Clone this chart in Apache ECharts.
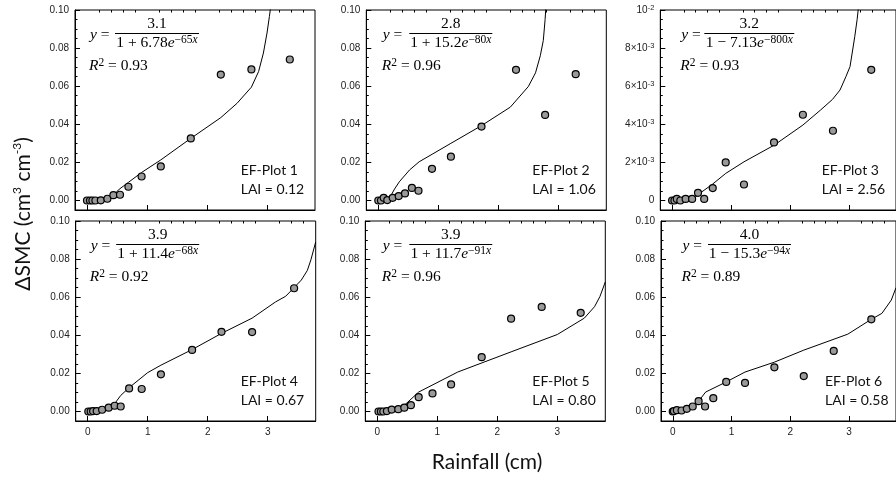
<!DOCTYPE html>
<html>
<head>
<meta charset="utf-8">
<script src="https://cdn.jsdelivr.net/npm/echarts@6/dist/echarts.min.js"></script>
<style>html,body{margin:0;padding:0;background:#fff}#c{width:896px;height:479px}</style>
</head>
<body>
<div id="c"></div>
<script>
// ---------------- data ----------------
const rain1 = [0, 0.05, 0.09, 0.14, 0.23, 0.34, 0.44, 0.55, 0.69, 0.91, 1.23, 1.73, 2.23, 2.74, 3.38];
const dsmc1 = [0, 0, 0, 0, 0.0001, 0.0009, 0.0028, 0.003, 0.0072, 0.0126, 0.0179, 0.0326, 0.0661, 0.0688, 0.074];
const fitX1 = [0, 0.23, 0.34, 0.44, 0.49, 0.55, 0.69, 0.91, 1.23, 1.73, 2.23, 2.5, 2.74, 2.86, 2.94, 3.0, 3.04, 3.08];
const fitY1 = [0, 0, 0.0005, 0.002, 0.0045, 0.0062, 0.0095, 0.0147, 0.0213, 0.0326, 0.0435, 0.051, 0.0595, 0.0677, 0.0774, 0.0879, 0.0966, 0.106];

const rain2 = [0, 0.045, 0.09, 0.15, 0.24, 0.34, 0.445, 0.56, 0.67, 0.895, 1.21, 1.72, 2.295, 2.78, 3.29];
const dsmc2 = [0, 0, 0.0014, 0.0002, 0.0014, 0.0023, 0.0037, 0.0066, 0.0051, 0.0166, 0.023, 0.0388, 0.0686, 0.0449, 0.0663];
const fitX2 = [0, 0.15, 0.2, 0.27, 0.35, 0.52, 0.68, 0.91, 1.21, 1.72, 2.2, 2.5, 2.62, 2.7, 2.75, 2.78, 2.8];
const fitY2 = [0, 0, 0.002, 0.006, 0.0098, 0.016, 0.0203, 0.0245, 0.030, 0.0393, 0.049, 0.0598, 0.067, 0.076, 0.084, 0.095, 0.105];

const rain3 = [0, 0.04, 0.08, 0.14, 0.23, 0.34, 0.44, 0.545, 0.69, 0.91, 1.22, 1.73, 2.22, 2.73, 3.38];
const dsmc3 = [0, 0, 0.00008, 0, 0.00008, 0.00008, 0.0004, 0.00008, 0.00065, 0.002, 0.00084, 0.00305, 0.0045, 0.00366, 0.00686];
const fitX3 = [0, 0.23, 0.34, 0.41, 0.49, 0.68, 0.91, 1.22, 1.73, 2.22, 2.52, 2.72, 2.85, 2.95, 3.02, 3.1, 3.14, 3.18];
const fitY3 = [0, 0.00003, 0.0001, 0.0002, 0.00042, 0.00084, 0.00142, 0.00203, 0.0029, 0.00396, 0.00475, 0.0053, 0.0058, 0.0065, 0.00703, 0.0086, 0.0095, 0.0106];

const rain4 = [0.01, 0.05, 0.09, 0.15, 0.24, 0.35, 0.45, 0.55, 0.69, 0.9, 1.22, 1.74, 2.23, 2.74, 3.44];
const dsmc4 = [0, 0, 0.0002, 0.0002, 0.0009, 0.002, 0.003, 0.0026, 0.0121, 0.0118, 0.0195, 0.0323, 0.0418, 0.0417, 0.0647];
const fitX4 = [0, 0.24, 0.35, 0.44, 0.55, 0.69, 1.0, 1.22, 1.74, 2.23, 2.74, 3.13, 3.3, 3.44, 3.56, 3.66, 3.72, 3.8];
const fitY4 = [0, 0.0002, 0.0008, 0.0037, 0.0084, 0.0125, 0.0204, 0.0243, 0.0325, 0.041, 0.049, 0.0575, 0.0605, 0.065, 0.069, 0.074, 0.0796, 0.089];

const rain5 = [0.02, 0.06, 0.1, 0.16, 0.24, 0.35, 0.45, 0.56, 0.69, 0.92, 1.23, 1.74, 2.23, 2.74, 3.39];
const dsmc5 = [0, 0, 0, 0.0002, 0.001, 0.0012, 0.002, 0.0033, 0.0075, 0.0095, 0.0142, 0.0285, 0.0487, 0.0549, 0.0518];
const fitX5 = [0, 0.37, 0.69, 1.34, 2.23, 3.0, 3.45, 3.62, 3.71, 3.8];
const fitY5 = [0, 0.0009, 0.0102, 0.0207, 0.0313, 0.0404, 0.049, 0.055, 0.0603, 0.068];

const rain6 = [0, 0.02, 0.07, 0.15, 0.24, 0.34, 0.44, 0.55, 0.69, 0.91, 1.23, 1.73, 2.23, 2.74, 3.38];
const dsmc6 = [0, 0.0002, 0.0007, 0.0005, 0.0014, 0.0026, 0.0054, 0.0026, 0.007, 0.0155, 0.015, 0.0232, 0.0186, 0.0318, 0.0484];
const fitX6 = [0, 0.15, 0.34, 0.44, 0.56, 0.91, 1.23, 1.73, 2.23, 2.98, 3.38, 3.56, 3.72, 3.8];
const fitY6 = [0, 0.0003, 0.0019, 0.0054, 0.0102, 0.0155, 0.0207, 0.0259, 0.0322, 0.0406, 0.0484, 0.0515, 0.0585, 0.065];

// tick labels
const xTicks = [0, 1, 2, 3];
const xMinorTicks = [0.2, 0.4, 0.6, 0.8, 1.2, 1.4, 1.6, 1.8, 2.2, 2.4, 2.6, 2.8, 3.2, 3.4, 3.6];
const yTicks = [0, 0.02, 0.04, 0.06, 0.08, 0.10];
const yMinorTicks = [0.005, 0.01, 0.015, 0.025, 0.03, 0.035, 0.045, 0.05, 0.055, 0.065, 0.07, 0.075, 0.085, 0.09, 0.095];
const yTicks3 = [0, 0.002, 0.004, 0.006, 0.008, 0.01];
const yTickLabels3 = ['0', '{b|2×10}{s|-3}', '{b|4×10}{s|-3}', '{b|6×10}{s|-3}', '{b|8×10}{s|-3}', '{b|10}{s|-2}'];
const yMinorTicks3 = [0.0005, 0.001, 0.0015, 0.0025, 0.003, 0.0035, 0.0045, 0.005, 0.0055, 0.0065, 0.007, 0.0075, 0.0085, 0.009, 0.0095];

// equation / annotation text
const numerators = ['3.1', '2.8', '3.2', '3.9', '3.9', '4.0'];
const denominators = [
  '1 + 6.78{i|e}{sup|−65}{supi|x}',
  '1 + 15.2{i|e}{sup|−80}{supi|x}',
  '1 − 7.13{i|e}{sup|−800}{supi|x}',
  '1 + 11.4{i|e}{sup|−68}{supi|x}',
  '1 + 11.7{i|e}{sup|−91}{supi|x}',
  '1 − 15.3{i|e}{sup|−94}{supi|x}'
];
const r2 = ['0.93', '0.96', '0.93', '0.92', '0.96', '0.89'];
const plotNames = ['EF-Plot 1', 'EF-Plot 2', 'EF-Plot 3', 'EF-Plot 4', 'EF-Plot 5', 'EF-Plot 6'];
const lai = ['0.12', '1.06', '2.56', '0.67', '0.80', '0.58'];

const rains = [rain1, rain2, rain3, rain4, rain5, rain6];
const dsmcs = [dsmc1, dsmc2, dsmc3, dsmc4, dsmc5, dsmc6];
const fitXs = [fitX1, fitX2, fitX3, fitX4, fitX5, fitX6];
const fitYs = [fitY1, fitY2, fitY3, fitY4, fitY5, fitY6];

// ---------------- layout ----------------
const lefts = [75, 366.3, 660.3, 75.7, 365.3, 661];
const tops = [10, 10, 10, 221, 221, 221];
const W = 240, H = 200;
const eqOff = [[15, 82, 84], [16.5, 84.5, 83], [21, 89, 90], [15, 82, 83], [17.5, 85.5, 83], [21.5, 88.5, 83]];
const labOff = [165.7, 166, 161.4, 165, 167, 164];

const SERIF = 'Liberation Serif';
const SANS = 'Lato';

const grids = [], xAxes = [], yAxes = [], series = [], graphics = [];
for (let p = 0; p < 6; p++) {
  const is3 = p === 2;
  const bottomRow = p >= 3;
  grids.push({ left: lefts[p], top: tops[p], width: W, height: H, show: true, borderColor: '#000', borderWidth: 1, backgroundColor: 'transparent' });
  const yMin = is3 ? -0.0005 : -0.005, yMax = is3 ? 0.01 : 0.1;
  xAxes.push({
    type: 'value', gridIndex: p, min: -0.2, max: 3.8,
    axisLine: { show: true, onZero: false, lineStyle: { color: '#000', width: 1 } },
    axisTick: { show: true, inside: true, length: 5, customValues: xTicks, lineStyle: { color: '#000' } },
    axisLabel: { show: bottomRow, customValues: xTicks, margin: 6, fontSize: 10, fontFamily: 'Liberation Sans', color: '#222' },
    splitLine: { show: false }
  });
  xAxes.push({
    type: 'value', gridIndex: p, min: -0.2, max: 3.8,
    axisLine: { show: false, onZero: false },
    axisTick: { show: true, inside: true, length: 2.5, customValues: xMinorTicks, lineStyle: { color: '#000' } },
    axisLabel: { show: false }, splitLine: { show: false }
  });
  yAxes.push({
    type: 'value', gridIndex: p, min: yMin, max: yMax, position: 'left',
    axisLine: { show: true, onZero: false, lineStyle: { color: '#000', width: 1 } },
    axisTick: { show: true, inside: true, length: 5, customValues: is3 ? yTicks3 : yTicks, lineStyle: { color: '#000' } },
    axisLabel: {
      show: true, customValues: is3 ? yTicks3 : yTicks, margin: 6, fontSize: 10, fontFamily: 'Liberation Sans', color: '#222',
      formatter: is3 ? (v) => { const i = yTicks3.findIndex(t => Math.abs(t - v) < 1e-9); return i >= 0 ? yTickLabels3[i] : ''; }
                     : (v) => v.toFixed(2),
      rich: is3 ? {
        b: { fontSize: 10, fontFamily: 'Liberation Sans', color: '#222', lineHeight: 13 },
        s: { fontSize: 7.5, fontFamily: 'Liberation Sans', color: '#222', verticalAlign: 'top', lineHeight: 8 }
      } : undefined
    },
    splitLine: { show: false }
  });
  yAxes.push({
    type: 'value', gridIndex: p, min: yMin, max: yMax, position: 'left', offset: 0,
    axisLine: { show: false, onZero: false },
    axisTick: { show: true, inside: true, length: 2.5, customValues: is3 ? yMinorTicks3 : yMinorTicks, lineStyle: { color: '#000' } },
    axisLabel: { show: false }, splitLine: { show: false }
  });
  series.push({
    type: 'line', xAxisIndex: 2 * p, yAxisIndex: 2 * p, clip: true, showSymbol: false, symbol: 'none', smooth: false,
    lineStyle: { color: '#000', width: 1 }, z: 2, silent: true,
    data: fitXs[p].map((x, i) => [x, fitYs[p][i]])
  });
  series.push({
    type: 'scatter', xAxisIndex: 2 * p, yAxisIndex: 2 * p, symbol: 'circle', symbolSize: 7, z: 3, silent: true,
    itemStyle: { color: '#9a9a9a', borderColor: '#000', borderWidth: 1.2, opacity: 1 },
    data: rains[p].map((x, i) => [x, dsmcs[p][i]])
  });

  const L = lefts[p], T = tops[p];
  const [yo, cxo, bw] = eqOff[p];
  const cx = L + cxo, barY = T + 23.5;
  const FS = 15.5, SUP = 11.5;
  const richSerif = {
    i: { fontStyle: 'italic', fontFamily: SERIF, fontSize: FS, lineHeight: 18 },
    sup: { fontFamily: SERIF, fontSize: SUP, lineHeight: 11, verticalAlign: 'top' },
    supi: { fontFamily: SERIF, fontSize: SUP, fontStyle: 'italic', lineHeight: 11, verticalAlign: 'top' }
  };
  graphics.push({ type: 'text', x: L + yo, y: barY + 1, silent: true, z: 10,
    style: { text: '{i|y} =', rich: richSerif, fontFamily: SERIF, fontSize: FS, lineHeight: 18, fill: '#000', align: 'left', verticalAlign: 'middle' } });
  graphics.push({ type: 'text', x: cx, y: barY - 10, silent: true, z: 10,
    style: { text: numerators[p], fontFamily: SERIF, fontSize: FS, fill: '#000', align: 'center', verticalAlign: 'middle' } });
  graphics.push({ type: 'line', silent: true, z: 10, shape: { x1: cx - bw / 2, y1: barY, x2: cx + bw / 2, y2: barY }, style: { stroke: '#000', lineWidth: 1 } });
  graphics.push({ type: 'text', x: cx, y: barY + 9.5, silent: true, z: 10,
    style: { text: denominators[p], rich: richSerif, fontFamily: SERIF, fontSize: FS, lineHeight: 18, fill: '#000', align: 'center', verticalAlign: 'middle' } });
  graphics.push({ type: 'text', x: L + yo - 1, y: T + 56, silent: true, z: 10,
    style: { text: '{i|R}{sup|2} = ' + r2[p], rich: richSerif, fontFamily: SERIF, fontSize: FS, lineHeight: 18, fill: '#000', align: 'left', verticalAlign: 'middle' } });
  graphics.push({ type: 'text', x: L + labOff[p], y: T + 160.5, silent: true, z: 10,
    style: { text: plotNames[p], fontFamily: SANS, fontSize: 14, fill: '#111', align: 'left', verticalAlign: 'middle' } });
  graphics.push({ type: 'text', x: L + labOff[p], y: T + 179, silent: true, z: 10,
    style: { text: 'LAI = ' + lai[p], fontFamily: SANS, fontSize: 14, fill: '#111', align: 'left', verticalAlign: 'middle' } });
}

graphics.push({ type: 'text', x: 487, y: 462, silent: true,
  style: { text: 'Rainfall (cm)', fontFamily: SANS, fontSize: 21, fill: '#111', align: 'center', verticalAlign: 'middle' } });
graphics.push({ type: 'text', x: 23, y: 214, rotation: Math.PI / 2, silent: true,
  style: { text: 'ΔSMC (cm{sup|3} cm{sup|-3})', fontFamily: SANS, fontSize: 21, lineHeight: 24, fill: '#111', align: 'center', verticalAlign: 'middle',
    rich: { sup: { fontFamily: SANS, fontSize: 12, lineHeight: 12, verticalAlign: 'top', fill: '#111' } } } });

const chart = echarts.init(document.getElementById('c'), null, { renderer: 'canvas' });
chart.setOption({
  animation: false,
  backgroundColor: '#fff',
  grid: grids, xAxis: xAxes, yAxis: yAxes, series: series, graphic: graphics
});
</script>
</body>
</html>
